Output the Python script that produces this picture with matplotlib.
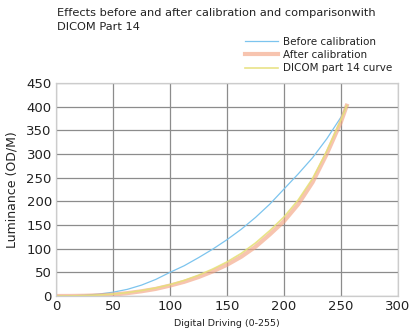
import numpy as np
import matplotlib
matplotlib.use("Agg")
import matplotlib.pyplot as plt

# values
drive = [0, 12.5, 25, 37.5, 50, 62.5, 75, 87.5, 100, 112.5, 125, 137.5,
         150, 162.5, 175, 187.5, 200, 212.5, 225, 237.5, 250, 255]
before_cal = [0, 0.4, 1.6, 4, 8, 14, 23, 35, 50, 64, 81, 99,
              119, 141, 166, 194, 226, 258, 292, 332, 378, 402]
after_cal = [0, 0.1, 0.5, 1.5, 3, 6, 10, 15, 22, 30, 40, 52,
             66, 83, 104, 130, 158, 194, 240, 300, 368, 402]
dicom_curve = [0, 0.2, 0.8, 2, 4, 7, 11.5, 17, 24, 33, 44, 57,
               72, 90, 112, 138, 167, 203, 248, 306, 372, 402]

x_ticks = [0, 50, 100, 150, 200, 250, 300]
y_ticks = [0, 50, 100, 150, 200, 250, 300, 350, 400, 450]

plt.rcParams['font.family'] = ['DejaVu Sans']

fig = plt.figure(figsize=(4.11, 3.31), dpi=100)
ax = fig.add_axes([56/411, 1-296/331, (398-56)/411, (296-83)/331])

ax.plot(drive, before_cal, color='#7cc4ee', lw=0.9, label='Before calibration')
ax.plot(drive, after_cal, color='#f4a585', lw=3.0, alpha=0.65, label='After calibration')
ax.plot(drive, dicom_curve, color='#e6e07a', lw=1.2, alpha=0.9, label='DICOM part 14 curve')

ax.set_xlim(0, 300)
ax.set_ylim(0, 450)
ax.set_xticks(x_ticks)
ax.set_yticks(y_ticks)
ax.tick_params(length=0, labelsize=9.5, colors='#222222', pad=3)
ax.grid(True, color='#8c8c8c', lw=0.9)
ax.set_axisbelow(True)
for s in ax.spines.values():
    s.set_color('#cccccc')
    s.set_linewidth(0.9)

ax.set_xlabel('Digital Driving (0-255)', fontsize=6.8, color='#222222', labelpad=4)
ax.set_ylabel('Luminance (OD/M)', fontsize=9, color='#222222', labelpad=6)

fig.text(57/411, 1-8/331, 'Effects before and after calibration and comparisonwith\nDICOM Part 14',
         ha='left', va='top', fontsize=8.2, color='#222222', linespacing=1.5)

leg = ax.legend(loc='upper left', bbox_to_anchor=(245/411, 1-37/331),
                bbox_transform=fig.transFigure, frameon=False, fontsize=7.5,
                handlelength=3.2, handletextpad=0.4, labelspacing=0.3,
                borderpad=0, borderaxespad=0)
for t in leg.get_texts():
    t.set_color('#222222')

fig.savefig('out.png', dpi=100)
